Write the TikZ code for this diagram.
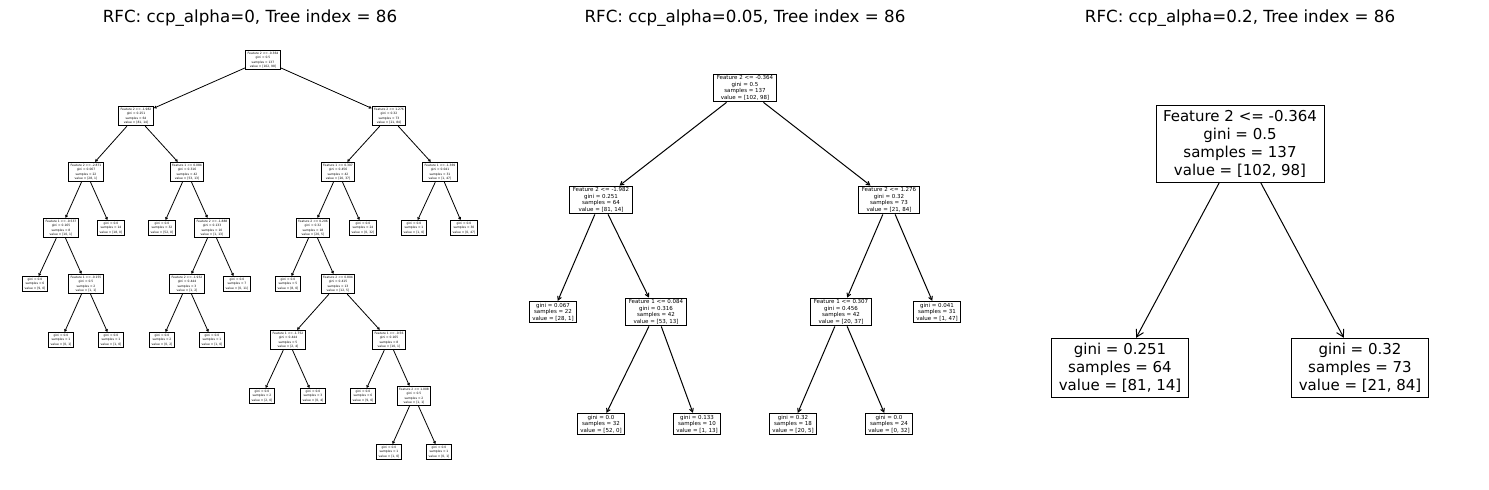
\documentclass[tikz,border=0pt]{standalone}
\usepackage{fontspec}
\setmainfont{DejaVu Sans}
\usetikzlibrary{arrows.meta}

\tikzset{
  treetitle/.style={inner sep=0pt,font=\fontsize{16.7}{20}\selectfont},
  boxA/.style={draw,line width=0.9pt,align=center,inner xsep=2pt,inner ysep=1.8pt,font=\fontsize{3}{4.4}\selectfont},
  boxB/.style={draw,line width=1pt,align=center,inner xsep=3pt,inner ysep=1.6pt,font=\fontsize{5.5}{6.6}\selectfont},
  boxC/.style={draw,line width=1pt,align=center,inner xsep=7pt,inner ysep=5pt,font=\fontsize{15}{18}\selectfont},
  edgeA/.style={line width=0.8pt,-{Straight Barb[length=2pt,width=2.4pt]}},
  edgeB/.style={line width=1pt,-{Straight Barb[length=3.5pt,width=4pt]}},
  edgeC/.style={line width=1pt,-{Straight Barb[length=7pt,width=8pt]}},
}

\begin{document}
\begin{tikzpicture}[x=1pt,y=-1pt]
\useasboundingbox (0,0) rectangle (1489,490);

% titles
\node[treetitle] (titleA) at (250,18) {RFC: ccp\_alpha=0, Tree index = 86};
\node[treetitle] (titleB) at (745,18) {RFC: ccp\_alpha=0.05, Tree index = 86};
\node[treetitle] (titleC) at (1240,18) {RFC: ccp\_alpha=0.2, Tree index = 86};

%% tree with ccp_alpha=0
\node[boxA] (a0) at (263,60) {Feature 2 <= -0.364\\gini = 0.5\\samples = 137\\value = [102, 98]};
\node[boxA] (a1) at (136,116) {Feature 2 <= -1.982\\gini = 0.251\\samples = 64\\value = [81, 14]};
\node[boxA] (a2) at (389,116) {Feature 2 <= 1.276\\gini = 0.32\\samples = 73\\value = [21, 84]};
% level 2
\node[boxA] (a11) at (86,172) {Feature 2 <= -2.871\\gini = 0.067\\samples = 22\\value = [28, 1]};
\node[boxA] (a12) at (187,172) {Feature 1 <= 0.084\\gini = 0.316\\samples = 42\\value = [53, 13]};
\node[boxA] (a21) at (338,172) {Feature 1 <= 0.307\\gini = 0.456\\samples = 42\\value = [20, 37]};
\node[boxA] (a22) at (440,172) {Feature 1 <= -1.369\\gini = 0.041\\samples = 31\\value = [1, 47]};
% level 3
\node[boxA] (a111) at (61,228) {Feature 1 <= -0.537\\gini = 0.165\\samples = 8\\value = [10, 1]};
\node[boxA] (a112) at (111,228) {gini = 0.0\\samples = 14\\value = [18, 0]};
\node[boxA] (a121) at (162,228) {gini = 0.0\\samples = 32\\value = [52, 0]};
\node[boxA] (a122) at (212,228) {Feature 2 <= -1.888\\gini = 0.133\\samples = 10\\value = [1, 13]};
\node[boxA] (a211) at (313,228) {Feature 2 <= 0.206\\gini = 0.32\\samples = 18\\value = [20, 5]};
\node[boxA] (a212) at (363,228) {gini = 0.0\\samples = 24\\value = [0, 32]};
\node[boxA] (a221) at (414,228) {gini = 0.0\\samples = 1\\value = [1, 0]};
\node[boxA] (a222) at (464,228) {gini = 0.0\\samples = 30\\value = [0, 47]};
% level 4
\node[boxA] (a1111) at (35,284) {gini = 0.0\\samples = 6\\value = [9, 0]};
\node[boxA] (a1112) at (86,284) {Feature 1 <= -0.155\\gini = 0.5\\samples = 2\\value = [1, 1]};
\node[boxA] (a1221) at (187,284) {Feature 2 <= -1.932\\gini = 0.444\\samples = 3\\value = [1, 2]};
\node[boxA] (a1222) at (237,284) {gini = 0.0\\samples = 7\\value = [0, 11]};
\node[boxA] (a2111) at (288,284) {gini = 0.0\\samples = 5\\value = [8, 0]};
\node[boxA] (a2112) at (338,284) {Feature 2 <= 0.804\\gini = 0.415\\samples = 13\\value = [12, 5]};
% level 5
\node[boxA] (a11121) at (61,340) {gini = 0.0\\samples = 1\\value = [0, 1]};
\node[boxA] (a11122) at (111,340) {gini = 0.0\\samples = 1\\value = [1, 0]};
\node[boxA] (a12211) at (162,340) {gini = 0.0\\samples = 2\\value = [0, 2]};
\node[boxA] (a12212) at (212,340) {gini = 0.0\\samples = 1\\value = [1, 0]};
\node[boxA] (a21121) at (288,340) {Feature 1 <= -1.752\\gini = 0.444\\samples = 5\\value = [2, 4]};
\node[boxA] (a21122) at (389,340) {Feature 1 <= -0.56\\gini = 0.165\\samples = 8\\value = [10, 1]};
% level 6
\node[boxA] (a211211) at (262,396) {gini = 0.0\\samples = 2\\value = [2, 0]};
\node[boxA] (a211212) at (313,396) {gini = 0.0\\samples = 3\\value = [0, 4]};
\node[boxA] (a211221) at (363,396) {gini = 0.0\\samples = 6\\value = [9, 0]};
\node[boxA] (a211222) at (414,396) {Feature 2 <= 1.008\\gini = 0.5\\samples = 2\\value = [1, 1]};
% level 7
\node[boxA] (a2112221) at (389,452) {gini = 0.0\\samples = 1\\value = [1, 0]};
\node[boxA] (a2112222) at (439,452) {gini = 0.0\\samples = 1\\value = [0, 1]};

\foreach \p/\c in {a0/a1,a0/a2,a1/a11,a1/a12,a2/a21,a2/a22,
    a11/a111,a11/a112,a12/a121,a12/a122,a21/a211,a21/a212,a22/a221,a22/a222,
    a111/a1111,a111/a1112,a122/a1221,a122/a1222,a211/a2111,a211/a2112,
    a1112/a11121,a1112/a11122,a1221/a12211,a1221/a12212,a2112/a21121,a2112/a21122,
    a21121/a211211,a21121/a211212,a21122/a211221,a21122/a211222,
    a211222/a2112221,a211222/a2112222}
  \draw[edgeA] (\p) -- (\c);

%% tree with ccp_alpha=0.05
\node[boxB] (b0) at (745,88) {Feature 2 <= -0.364\\gini = 0.5\\samples = 137\\value = [102, 98]};
\node[boxB] (b1) at (601,200) {Feature 2 <= -1.982\\gini = 0.251\\samples = 64\\value = [81, 14]};
\node[boxB] (b2) at (889,200) {Feature 2 <= 1.276\\gini = 0.32\\samples = 73\\value = [21, 84]};
\node[boxB] (b11) at (553,312) {gini = 0.067\\samples = 22\\value = [28, 1]};
\node[boxB] (b12) at (656,312) {Feature 1 <= 0.084\\gini = 0.316\\samples = 42\\value = [53, 13]};
\node[boxB] (b21) at (841,312) {Feature 1 <= 0.307\\gini = 0.456\\samples = 42\\value = [20, 37]};
\node[boxB] (b22) at (937,312) {gini = 0.041\\samples = 31\\value = [1, 47]};
\node[boxB] (b121) at (601,424) {gini = 0.0\\samples = 32\\value = [52, 0]};
\node[boxB] (b122) at (697,424) {gini = 0.133\\samples = 10\\value = [1, 13]};
\node[boxB] (b211) at (793,424) {gini = 0.32\\samples = 18\\value = [20, 5]};
\node[boxB] (b212) at (889,424) {gini = 0.0\\samples = 24\\value = [0, 32]};

\foreach \p/\c in {b0/b1,b0/b2,b1/b11,b1/b12,b2/b21,b2/b22,
    b12/b121,b12/b122,b21/b211,b21/b212}
  \draw[edgeB] (\p) -- (\c);

%% tree with ccp_alpha=0.2
\node[boxC] (c0) at (1240,144) {Feature 2 <= -0.364\\gini = 0.5\\samples = 137\\value = [102, 98]};
\node[boxC] (c1) at (1120,368) {gini = 0.251\\samples = 64\\value = [81, 14]};
\node[boxC] (c2) at (1360,368) {gini = 0.32\\samples = 73\\value = [21, 84]};

\draw[edgeC] (c0) -- (c1);
\draw[edgeC] (c0) -- (c2);

\end{tikzpicture}
\end{document}
